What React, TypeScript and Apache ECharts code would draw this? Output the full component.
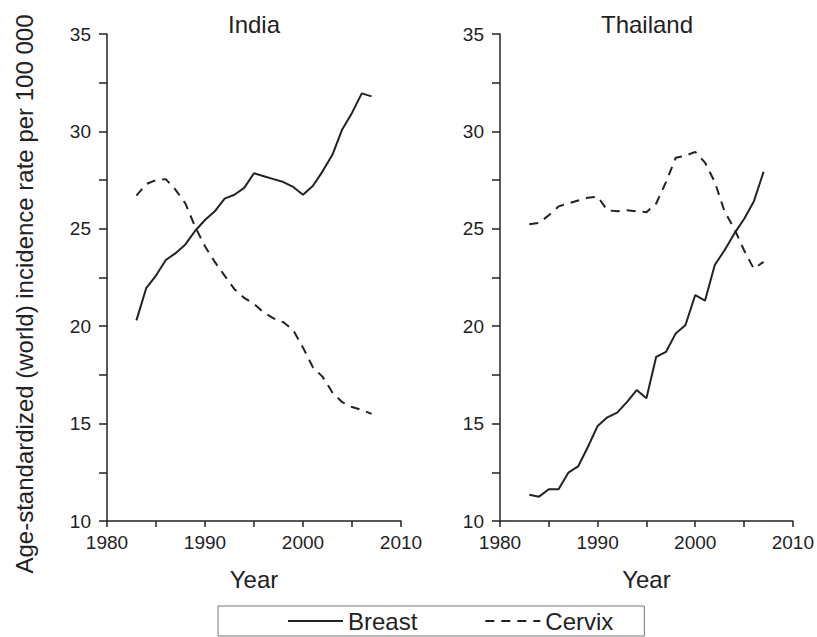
import React, { useEffect, useRef } from "react";
import * as echarts from "echarts";

const years = [1983, 1984, 1985, 1986, 1987, 1988, 1989, 1990, 1991, 1992, 1993, 1994, 1995, 1996, 1997, 1998, 1999, 2000, 2001, 2002, 2003, 2004, 2005, 2006, 2007];

const indiaBreast = [20.3, 21.95, 22.6, 23.4, 23.75, 24.2, 24.9, 25.45, 25.9, 26.55, 26.75, 27.1, 27.85, 27.7, 27.55, 27.4, 27.15, 26.75, 27.2, 27.95, 28.8, 30.1, 30.95, 31.95, 31.8];
const indiaCervix = [26.7, 27.3, 27.5, 27.55, 27.0, 26.3, 25.1, 24.1, 23.3, 22.6, 21.9, 21.45, 21.15, 20.7, 20.4, 20.2, 19.8, 18.9, 17.9, 17.4, 16.6, 16.1, 15.85, 15.7, 15.5];
const thailandBreast = [11.35, 11.25, 11.63, 11.63, 12.48, 12.8, 13.8, 14.88, 15.32, 15.56, 16.1, 16.72, 16.3, 18.43, 18.68, 19.63, 20.06, 21.6, 21.31, 23.14, 23.9, 24.75, 25.5, 26.4, 27.93];
const thailandCervix = [25.23, 25.3, 25.7, 26.15, 26.3, 26.45, 26.6, 26.65, 25.95, 25.9, 25.95, 25.9, 25.85, 26.3, 27.4, 28.65, 28.75, 28.95, 28.4, 27.4, 25.9, 25.0, 23.9, 22.95, 23.3];

const panelTitles = ["India", "Thailand"];
const seriesNames = ["Breast", "Cervix"];
const yTitle = "Age-standardized (world) incidence rate per 100 000";
const xTitle = "Year";

const FONT = "'Liberation Sans', Arial, sans-serif";
const INK = "#222";

export default function App() {
  const ref = useRef<HTMLDivElement>(null);
  useEffect(() => {
    document.body.style.margin = "0";
    const chart = echarts.init(ref.current!, null, { renderer: "svg" });
    const pairs = (vals: number[]) => years.map((y, i) => [y, vals[i]]);
    const grids = [
      { left: 107, top: 34, width: 294, height: 487 },
      { left: 500, top: 34, width: 294, height: 487 },
    ];
    const xAxis = grids.map((_, i) => ({
      type: "value",
      gridIndex: i,
      min: 1980,
      max: 2010,
      interval: 5,
      name: xTitle,
      nameLocation: "middle",
      nameGap: 46,
      nameTextStyle: { fontFamily: FONT, fontSize: 24, color: INK },
      axisLine: { show: true, lineStyle: { color: INK, width: 1.5 } },
      axisTick: { show: true, length: 6, lineStyle: { color: INK, width: 1.5 } },
      axisLabel: {
        fontFamily: FONT,
        fontSize: 19,
        color: INK,
        margin: 12,
        formatter: (v: number) => (v % 10 === 0 ? String(v) : ""),
      },
      splitLine: { show: false },
    }));
    const yAxis = grids.map((_, i) => ({
      type: "value",
      gridIndex: i,
      min: 10,
      max: 35,
      interval: 2.5,
      name: i === 0 ? yTitle : "",
      nameLocation: "middle",
      nameGap: 71,
      nameTextStyle: { fontFamily: FONT, fontSize: 24, color: INK, padding: [0, 33, 0, 0] },
      axisLine: { show: true, lineStyle: { color: INK, width: 1.5 } },
      axisTick: { show: true, length: 8, lineStyle: { color: INK, width: 1.5 } },
      axisLabel: {
        fontFamily: FONT,
        fontSize: 19,
        color: INK,
        margin: 16,
        formatter: (v: number) => (v % 5 === 0 ? String(v) : ""),
      },
      splitLine: { show: false },
    }));
    const mk = (name: string, vals: number[], idx: number, dashed: boolean) => ({
      type: "line",
      name,
      xAxisIndex: idx,
      yAxisIndex: idx,
      data: pairs(vals),
      symbol: "none",
      showSymbol: false,
      lineStyle: { color: INK, width: 2, type: dashed ? [9, 7] : "solid" },
      itemStyle: { color: INK },
    });
    chart.setOption({
      animation: false,
      backgroundColor: "#fff",
      grid: grids,
      xAxis,
      yAxis,
      legend: {
        data: seriesNames,
        left: 218,
        top: 606,
        orient: "horizontal",
        itemWidth: 55,
        itemHeight: 14,
        itemGap: 67,
        padding: [3, 31, 3, 69],
        borderColor: "#777",
        borderWidth: 1,
        itemStyle: { opacity: 0 },
        textStyle: { fontFamily: FONT, fontSize: 24, color: INK },
        selectedMode: false,
      },
      graphic: [
        {
          type: "text",
          x: 254,
          y: 24,
          style: { text: panelTitles[0], fontFamily: FONT, fontSize: 24, fill: INK, textAlign: "center", textVerticalAlign: "middle" },
        },
        {
          type: "text",
          x: 647,
          y: 24,
          style: { text: panelTitles[1], fontFamily: FONT, fontSize: 24, fill: INK, textAlign: "center", textVerticalAlign: "middle" },
        },
      ],
      series: [
        mk(seriesNames[0], indiaBreast, 0, false),
        mk(seriesNames[1], indiaCervix, 0, true),
        mk(seriesNames[0], thailandBreast, 1, false),
        mk(seriesNames[1], thailandCervix, 1, true),
      ],
    });
    return () => chart.dispose();
  }, []);
  return <div ref={ref} style={{ width: 817, height: 637, position: "absolute", left: 0, top: 0 }} />;
}
